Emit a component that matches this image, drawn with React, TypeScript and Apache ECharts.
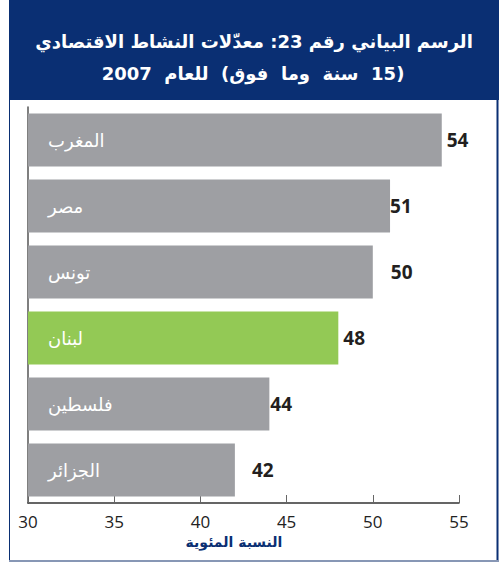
import React, { useEffect, useRef } from "react";
import * as echarts from "echarts";

const RLM = "\u200F";
const categories = ["المغرب", "مصر", "تونس", "لبنان", "فلسطين", "الجزائر"];
const values = [54, 51, 50, 48, 44, 42];
const highlight = "لبنان";
const labelDistances = [5, 0, 18, 5, 1, 17];
const titleLine1 = "الرسم البياني رقم 23: معدّلات النشاط الاقتصادي";
const titleLine2 = "(15  سنة  وما  فوق)  للعام  2007";
const axisName = "النسبة المئوية";

const NAVY = "#0a2f73";
const GRAY = "#9e9fa3";
const GREEN = "#93c955";

const rtl = (s: string) => RLM + s + RLM;

export default function App() {
  const ref = useRef<HTMLDivElement>(null);
  useEffect(() => {
    if (!ref.current) return;
    const chart = echarts.init(ref.current, null, { renderer: "svg" });
    chart.setOption({
      animation: false,
      backgroundColor: "#ffffff",
      grid: { left: 28, right: 40, top: 107, bottom: 60 },
      xAxis: {
        type: "value",
        min: 30,
        max: 55,
        interval: 5,
        axisLine: { show: true, lineStyle: { color: "#333", width: 1.5 } },
        axisTick: { show: true, inside: true, length: 8, lineStyle: { color: "#666" } },
        splitLine: { show: false },
        axisLabel: { color: "#222", fontSize: 17, margin: 10, fontFamily: "Open Sans" },
      },
      yAxis: {
        type: "category",
        inverse: true,
        data: categories,
        axisLine: { show: true, lineStyle: { color: "#555", width: 1.5 } },
        axisTick: { show: false },
        axisLabel: { show: false },
      },
      series: [
        {
          type: "bar",
          barCategoryGap: "20%",
          data: values.map((v, i) => ({
            value: v,
            itemStyle: { color: categories[i] === highlight ? GREEN : GRAY },
            label: { distance: labelDistances[i] },
          })),
          label: {
            show: true,
            position: "right",
            color: "#231f20",
            fontSize: 19,
            fontWeight: "bold",
            fontFamily: "Open Sans",
          },
        },
        {
          type: "bar",
          barGap: "-100%",
          barCategoryGap: "20%",
          data: values,
          itemStyle: { color: "rgba(0,0,0,0)" },
          silent: true,
          label: {
            show: true,
            position: "insideLeft",
            distance: 20,
            formatter: "{b}",
            color: "#ffffff",
            fontSize: 18,
            fontFamily: "DejaVu Sans",
          },
        },
      ],
      graphic: [
        { type: "rect", shape: { x: 9, y: 0, width: 490, height: 100 }, style: { fill: NAVY } },
        { type: "line", shape: { x1: 9.5, y1: 100, x2: 9.5, y2: 561 }, style: { stroke: NAVY, lineWidth: 1 } },
        { type: "line", shape: { x1: 497.5, y1: 100, x2: 497.5, y2: 561 }, style: { stroke: NAVY, lineWidth: 2 } },
        { type: "line", shape: { x1: 9, y1: 561, x2: 499, y2: 561 }, style: { stroke: "#8797b5", lineWidth: 2 } },
        {
          type: "text",
          x: 254,
          y: 41,
          style: { text: rtl(titleLine1), fill: "#fff", fontSize: 18, fontWeight: "bold", fontFamily: "DejaVu Sans", align: "center", verticalAlign: "middle" },
        },
        {
          type: "text",
          x: 253,
          y: 73,
          style: { text: rtl(titleLine2), fill: "#fff", fontSize: 18, fontWeight: "bold", fontFamily: "DejaVu Sans", align: "center", verticalAlign: "middle" },
        },
        {
          type: "text",
          x: 234,
          y: 542,
          style: { text: axisName, fill: NAVY, fontSize: 14, fontWeight: "bold", fontFamily: "DejaVu Sans", align: "center", verticalAlign: "middle" },
        },
      ],
    });
    return () => chart.dispose();
  }, []);
  return <div ref={ref} style={{ position: "absolute", left: 0, top: 0, width: 499, height: 563 }} />;
}
